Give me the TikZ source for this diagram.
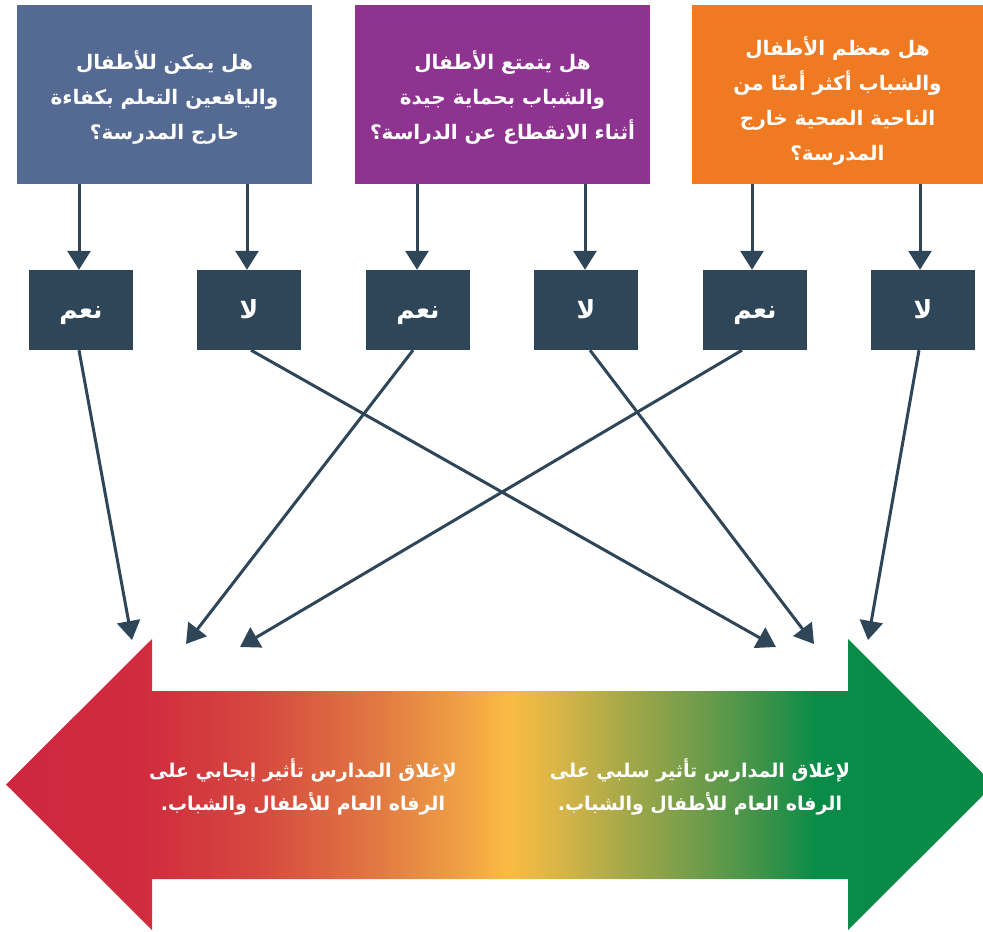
\documentclass[tikz,border=0pt]{standalone}
\usepackage{fontspec}
\newfontfamily\arabicfont[Script=Arabic]{DejaVu Sans}
\TeXXeTstate=1
\usetikzlibrary{arrows.meta}
\newcommand{\arl}[1]{\beginR #1\endR}
\definecolor{qblue}{HTML}{556A93}
\definecolor{qpurple}{HTML}{8E3390}
\definecolor{qorange}{HTML}{F07A22}
\definecolor{dark}{HTML}{2F4659}
\definecolor{g0}{HTML}{CF263F}
\definecolor{g1}{HTML}{D02B3E}
\definecolor{g2}{HTML}{D6493F}
\definecolor{g3}{HTML}{E17A42}
\definecolor{g4}{HTML}{F0A045}
\definecolor{g5}{HTML}{FBBB43}
\definecolor{g6}{HTML}{D7B547}
\definecolor{g7}{HTML}{A9A949}
\definecolor{g8}{HTML}{6E9C4A}
\definecolor{g9}{HTML}{3F9349}
\definecolor{g10}{HTML}{098C47}
\definecolor{g11}{HTML}{078A46}
\tikzset{
  qbox/.style={minimum width=295pt, minimum height=179pt, inner sep=0pt},
  qtext/.style={inner sep=0pt, text=white, align=center,
    font=\arabicfont\bfseries\fontsize{20}{35}\selectfont},
  abox/.style={fill=dark, minimum width=104pt, minimum height=80pt, inner sep=0pt, text=white,
    text height=22pt, text depth=6pt,
    font=\arabicfont\bfseries\fontsize{25}{28}\selectfont},
  conn/.style={draw=dark, line width=3pt, -{Triangle[length=19pt,width=23pt]}},
  atext/.style={text=white, align=center, font=\arabicfont\bfseries\fontsize{19}{33}\selectfont}
}
\begin{document}
\begin{tikzpicture}[x=1pt,y=-1pt]
\useasboundingbox (0,0) rectangle (983,932);
% big double arrow with gradient
\begin{scope}
\clip (0,0) rectangle (983,932);
\clip (6,784.5) -- (152,639) -- (152,691) -- (848,691) -- (848,639) -- (994,784.5)
      -- (848,930) -- (848,879) -- (152,879) -- (152,930) -- cycle;
\shade[left color=g0, right color=g1] (0,630) rectangle (140.5,940);
\shade[left color=g1, right color=g2] (140,630) rectangle (260.5,940);
\shade[left color=g2, right color=g3] (260,630) rectangle (380.5,940);
\shade[left color=g3, right color=g4] (380,630) rectangle (460.5,940);
\shade[left color=g4, right color=g5] (460,630) rectangle (508.5,940);
\shade[left color=g5, right color=g6] (508,630) rectangle (560.5,940);
\shade[left color=g6, right color=g7] (560,630) rectangle (620.5,940);
\shade[left color=g7, right color=g8] (620,630) rectangle (700.5,940);
\shade[left color=g8, right color=g9] (700,630) rectangle (760.5,940);
\shade[left color=g9, right color=g10] (760,630) rectangle (815.5,940);
\shade[left color=g10, right color=g11] (815,630) rectangle (1000,940);
\end{scope}
\node[atext] (neg) at (303,787) {\arl{لإغلاق المدارس تأثير إيجابي على}\\\arl{الرفاه العام للأطفال والشباب.}};
\node[atext] (pos) at (700,787) {\arl{لإغلاق المدارس تأثير سلبي على}\\\arl{الرفاه العام للأطفال والشباب.}};
% question boxes
\node[qbox, fill=qblue] (q1) at (164.5,94.5) {};
\node[qbox, fill=qpurple] (q2) at (502.5,94.5) {};
\node[qbox, fill=qorange, minimum width=291pt] (q3) at (837.5,94.5) {};
\node[qtext] (q1t) at ([yshift=-3pt]q1.center) {\arl{هل يمكن للأطفال}\\\arl{واليافعين التعلم بكفاءة}\\\arl{خارج المدرسة؟}};
\node[qtext] (q2t) at ([yshift=-3pt]q2.center) {\arl{هل يتمتع الأطفال}\\\arl{والشباب بحماية جيدة}\\\arl{أثناء الانقطاع عن الدراسة؟}};
\node[qtext] (q3t) at ([yshift=-6pt]q3.center) {\arl{هل معظم الأطفال}\\\arl{والشباب أكثر أمنًا من}\\\arl{الناحية الصحية خارج}\\\arl{المدرسة؟}};
% answer boxes
\node[abox] (y1) at (81,310) {\arl{نعم}};
\node[abox] (n1) at (249,310) {\arl{لا}};
\node[abox] (y2) at (418,310) {\arl{نعم}};
\node[abox] (n2) at (586,310) {\arl{لا}};
\node[abox] (y3) at (755,310) {\arl{نعم}};
\node[abox] (n3) at (923,310) {\arl{لا}};
% arrows from questions
\draw[conn] ([xshift=-2pt]y1.north |- q1.south) -- ([xshift=-2pt]y1.north);
\draw[conn] ([xshift=-2pt]n1.north |- q1.south) -- ([xshift=-2pt]n1.north);
\draw[conn] ([xshift=-1pt]y2.north |- q2.south) -- ([xshift=-1pt]y2.north);
\draw[conn] ([xshift=-1pt]n2.north |- q2.south) -- ([xshift=-1pt]n2.north);
\draw[conn] ([xshift=-3pt]y3.north |- q3.south) -- ([xshift=-3pt]y3.north);
\draw[conn] ([xshift=-3pt]n3.north |- q3.south) -- ([xshift=-3pt]n3.north);
% targets above big arrow
\coordinate (t1) at (132,640);
\coordinate (t2) at (186,644);
\coordinate (t3) at (240,647);
\coordinate (t4) at (776,647);
\coordinate (t5) at (814,644);
\coordinate (t6) at (868,640);
\draw[conn] ([xshift=-2pt]y1.south) -- (t1);
\draw[conn] ([xshift=2pt]n1.south) -- (t4);
\draw[conn] ([xshift=-5pt]y2.south) -- (t2);
\draw[conn] ([xshift=4pt]n2.south) -- (t5);
\draw[conn] ([xshift=-13pt]y3.south) -- (t3);
\draw[conn] ([xshift=-4pt]n3.south) -- (t6);
\end{tikzpicture}
\end{document}
